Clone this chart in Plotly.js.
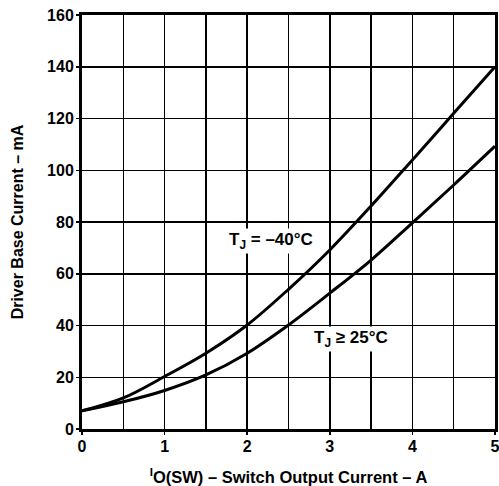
<!DOCTYPE html>
<html>
<head>
<meta charset="utf-8">
<script src="https://cdn.plot.ly/plotly-3.0.1.min.js"></script>
<style>html,body{margin:0;padding:0;background:#fff;}</style>
</head>
<body>
<div id="chart" style="width:499px;height:486px;"></div>
<script>
const xCurrent = [0, 0.5, 1, 1.5, 2, 2.5, 3, 3.5, 4, 4.5, 5];
const baseCurrentMinus40 = [7, 12, 20.3, 29.3, 40.2, 54, 69.2, 86.2, 104, 122, 140];
const baseCurrent25 = [7, 10.5, 14.9, 20.9, 29.3, 40.2, 52.5, 65.3, 79.7, 94.3, 109.3];
const labelMinus40 = 'T<sub>J</sub> = \u201340\u00B0C';
const label25 = 'T<sub>J</sub> \u2265 25\u00B0C';
const xTitle = '<sup>I</sup>O(SW) \u2013 Switch Output Current \u2013 A';
const yTitle = 'Driver Base Current \u2013 mA';

const font = 'Liberation Sans, Arial, sans-serif';
const traces = [
  {x: xCurrent, y: baseCurrentMinus40, mode: 'lines', line: {color: '#000', width: 3, shape: 'spline'}, hoverinfo: 'skip'},
  {x: xCurrent, y: baseCurrent25, mode: 'lines', line: {color: '#000', width: 3, shape: 'spline'}, hoverinfo: 'skip'}
];
const layout = {
  width: 499, height: 486,
  margin: {l: 82, r: 4, t: 15, b: 57},
  paper_bgcolor: '#fff', plot_bgcolor: '#fff',
  showlegend: false,
  font: {family: font, color: '#000', size: 16, weight: 'bold'},
  xaxis: {
    range: [0, 5], dtick: 1, tick0: 0,
    showgrid: true, gridcolor: '#000', gridwidth: 1.5,
    minor: {dtick: 0.5, showgrid: true, gridcolor: '#000', gridwidth: 1.5},
    showline: true, linecolor: '#000', linewidth: 3, mirror: true,
    ticks: 'outside', ticklen: 3, tickcolor: '#000', tickwidth: 1.5,
    ticklabeloverflow: 'allow',
    ticklabelstandoff: -2,
    zeroline: false,
    tickfont: {family: font, size: 16, weight: 'bold'},
    title: {text: xTitle, font: {family: font, size: 16.5, weight: 'bold'}, standoff: 20}
  },
  yaxis: {
    range: [0, 160], dtick: 20, tick0: 0,
    showgrid: true, gridcolor: '#000', gridwidth: 1.5,
    showline: true, linecolor: '#000', linewidth: 3, mirror: true,
    ticks: 'outside', ticklen: 3, tickcolor: '#000', tickwidth: 1.5,
    ticklabelstandoff: -1,
    zeroline: false,
    tickfont: {family: font, size: 16, weight: 'bold'},
    title: {text: yTitle, font: {family: font, size: 16, weight: 'bold'}, standoff: 20}
  },
  annotations: [
    {x: 2.29, y: 72.7, xref: 'x', yref: 'y', text: labelMinus40, showarrow: false, bgcolor: '#fff', font: {family: font, size: 17, weight: 'bold'}},
    {x: 3.26, y: 34.8, xref: 'x', yref: 'y', text: label25, showarrow: false, bgcolor: '#fff', font: {family: font, size: 17, weight: 'bold'}}
  ]
};
Plotly.newPlot('chart', traces, layout, {staticPlot: true, displayModeBar: false});
</script>
</body>
</html>
